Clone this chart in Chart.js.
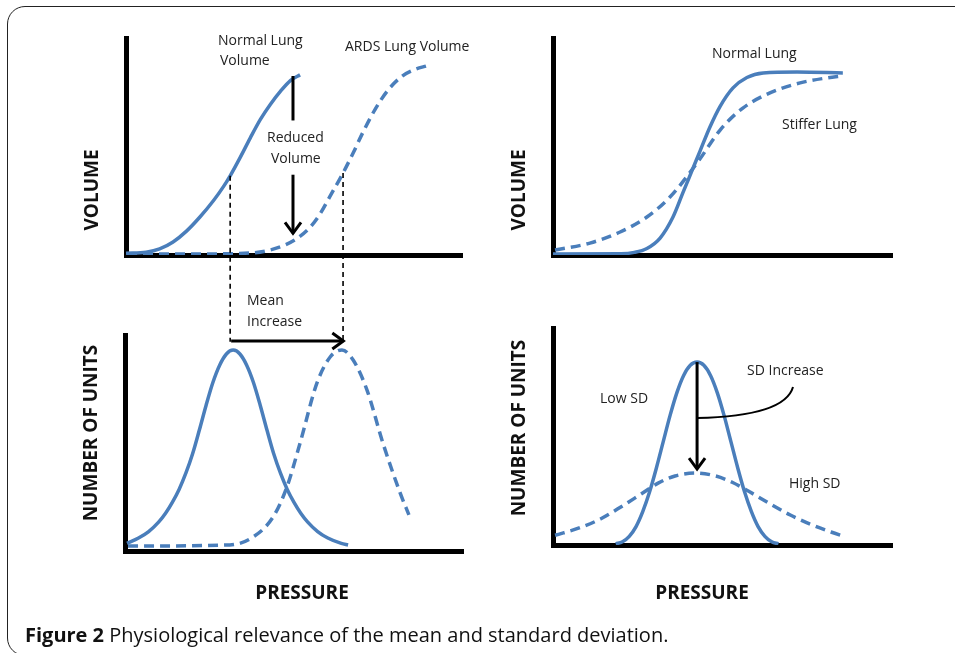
<!DOCTYPE html>
<html>
<head>
<meta charset="utf-8">
<script src="https://cdn.jsdelivr.net/npm/chart.js@4.4.1/dist/chart.umd.min.js"></script>
<style>
  body { margin: 0; background: #fff; width: 955px; height: 653px; overflow: hidden; position: relative; font-family: "Open Sans", sans-serif; }
  canvas { position: absolute; left: 0; top: 0; }
  .frame { position: absolute; left: 7px; top: 6px; width: 1000px; height: 648px; border: 1px solid #222; border-radius: 18px 0 0 18px; }
  .t { position: absolute; font-size: 14px; color: #222; white-space: nowrap; line-height: 1; transform: translateY(-50%); }
  .ax { position: absolute; font-weight: bold; font-size: 19px; color: #111; white-space: nowrap; line-height: 1; transform: translate(-50%, -50%) rotate(-90deg); }
  .px { position: absolute; font-weight: bold; font-size: 19px; color: #111; white-space: nowrap; line-height: 1; transform: translate(-50%, -50%); }
  .cap { position: absolute; left: 25px; top: 635px; transform: translateY(-50%); font-size: 20px; color: #111; white-space: nowrap; line-height: 1; }
</style>
</head>
<body>
<div class="frame"></div>
<canvas id="c1" width="955" height="653"></canvas>
<canvas id="c2" width="955" height="653"></canvas>
<canvas id="c3" width="955" height="653"></canvas>
<canvas id="c4" width="955" height="653"></canvas>

<div class="t" style="left:218px;top:40px">Normal Lung</div>
<div class="t" style="left:220px;top:60px">Volume</div>
<div class="t" style="left:345px;top:46px">ARDS Lung Volume</div>
<div class="t" style="left:267px;top:137px">Reduced</div>
<div class="t" style="left:271px;top:158px">Volume</div>
<div class="ax" style="left:91px;top:190px">VOLUME</div>

<div class="t" style="left:712px;top:53px">Normal Lung</div>
<div class="t" style="left:782px;top:124px">Stiffer Lung</div>
<div class="ax" style="left:518px;top:190px">VOLUME</div>

<div class="t" style="left:247px;top:300px">Mean</div>
<div class="t" style="left:247px;top:321px">Increase</div>
<div class="ax" style="left:90px;top:433px">NUMBER OF UNITS</div>
<div class="px" style="left:302px;top:592px">PRESSURE</div>

<div class="t" style="left:747px;top:370px">SD Increase</div>
<div class="t" style="left:600px;top:398px">Low SD</div>
<div class="t" style="left:789px;top:483px">High SD</div>
<div class="ax" style="left:518px;top:428px">NUMBER OF UNITS</div>
<div class="px" style="left:702px;top:592px">PRESSURE</div>

<div class="cap"><b>Figure 2</b> Physiological relevance of the mean and standard deviation.</div>

<script>
// panel 1: volume vs pressure, normal vs ARDS
const volNormalX = [0, 6, 10, 14, 18, 22, 26, 29, 31, 34, 37, 40, 43, 46, 49, 51.8];
const volNormalY = [0.8, 1.3, 2.8, 6, 11, 17.5, 25, 31.5, 36.5, 45, 54, 62.5, 69.5, 75.5, 80.5, 83];
const volArdsX = [0.3, 22, 36.9, 42.9, 47.3, 50.9, 54.8, 57.7, 60.7, 64.6, 67.6, 70.5, 74.1, 78, 82.1, 86, 89.6];
const volArdsY = [0.5, 0.5, 0.9, 2.3, 4.6, 7.6, 12.8, 18.8, 27, 37.8, 47, 56.5, 67, 76, 82.3, 85.5, 87.2];

// panel 2: normal vs stiffer lung
const stiffNormalX = [0, 20, 24, 27.7, 31.6, 35.4, 38.3, 41.3, 43.4, 46.3, 49.3, 53.1, 57.2, 62, 72, 85.5];
const stiffNormalY = [0.5, 0.6, 1.2, 3, 7.8, 17.5, 28.6, 40, 48, 59, 68.5, 77, 81.8, 83.9, 84.3, 83.9];
const stifferX = [0.6, 10.9, 19.8, 27.7, 34.5, 42.5, 49.3, 56, 64, 72.9, 80.8, 85.5];
const stifferY = [2.3, 5.5, 10.6, 17.5, 26.7, 42.4, 57.6, 67.7, 74.7, 79.3, 81.6, 82.5];

// panel 3: distributions, mean shift
const meanLowX = [0.6, 4, 7, 10, 12, 14, 16, 18, 20, 22, 24, 26, 28, 30, 32, 34, 36, 38, 40, 42, 44, 46, 48, 50, 52, 54, 57, 60, 64, 66];
const meanLowY = [3.5, 6, 9, 13.5, 17.5, 22.5, 28.5, 36, 45, 56, 67.5, 78, 86, 91.2, 93, 91.2, 86, 78, 67.5, 56, 45, 36, 28.5, 22.5, 17.5, 13.5, 9, 6, 3.5, 2.8];
const meanHighX = [0.9, 31, 37.9, 43.8, 47.9, 51.8, 56.8, 60.7, 64.2, 67.5, 71.6, 76.3, 81.4, 84];
const meanHighY = [2.3, 2.8, 6.5, 15.7, 29.6, 50, 77.8, 89.8, 93.1, 88.4, 74.5, 50, 26.9, 16.7];

// panel 4: distributions, SD increase
const sdLowX = [18.5, 20.5, 22.5, 24.5, 26.5, 28.5, 30.5, 32.5, 34.5, 36.5, 38.5, 40.5, 42.5, 44.5, 46.5, 48.5, 50.5, 52.5, 54.5, 56.5, 58.5, 60.5, 62.5, 64.5, 66.5];
const sdLowY = [0.5, 1.5, 4, 8.5, 15.5, 24.5, 35.5, 47.5, 59.5, 70, 78, 82.8, 84.3, 82.8, 78, 70, 59.5, 47.5, 35.5, 24.5, 15.5, 8.5, 4, 1.5, 0.5];
const sdHighX = [0.6, 8, 14, 20, 26, 31, 36, 42, 48, 53, 58, 64, 70, 76, 82, 86.1];
const sdHighY = [4.5, 8, 12, 17.5, 23.5, 28.5, 31.8, 33.2, 31.8, 28.8, 24.5, 19, 13.8, 9.5, 6, 3.8];

const BLUE = '#4a7ebb';

function pts(xs, ys) { return xs.map((x, i) => ({ x: x, y: ys[i] })); }

function curve(xs, ys, dashed) {
  return {
    data: pts(xs, ys),
    borderColor: BLUE,
    borderWidth: 3.5,
    borderDash: dashed ? [10, 6] : [],
    pointRadius: 0,
    cubicInterpolationMode: 'monotone',
    fill: false
  };
}

function axis() {
  return {
    type: 'linear', min: 0, max: 100,
    ticks: { display: false },
    grid: { display: false, drawTicks: false },
    border: { display: true, color: '#000', width: 5 }
  };
}

function line(ctx, x1, y1, x2, y2) {
  ctx.beginPath(); ctx.moveTo(x1, y1); ctx.lineTo(x2, y2); ctx.stroke();
}

function head(ctx, x, y, dir) {
  ctx.beginPath();
  if (dir === 'down') { ctx.moveTo(x - 8, y - 11); ctx.lineTo(x, y); ctx.lineTo(x + 8, y - 11); }
  else { ctx.moveTo(x - 11, y - 8); ctx.lineTo(x, y); ctx.lineTo(x - 11, y + 8); }
  ctx.stroke();
}

function makeChart(id, area, datasets, extra) {
  new Chart(document.getElementById(id), {
    type: 'line',
    data: { datasets: datasets },
    options: {
      responsive: false,
      animation: false,
      devicePixelRatio: 1,
      layout: { padding: { left: area[0], top: area[1], right: 955 - area[2], bottom: 653 - area[3] } },
      scales: { x: axis(), y: axis() },
      plugins: { legend: { display: false }, tooltip: { enabled: false } }
    },
    plugins: [{
      id: 'marks',
      afterDatasetsDraw(chart) {
        const ctx = chart.ctx;
        const X = v => chart.scales.x.getPixelForValue(v);
        const Y = v => chart.scales.y.getPixelForValue(v);
        ctx.save();
        ctx.strokeStyle = '#000';
        extra(ctx, X, Y);
        ctx.restore();
      }
    }]
  });
}

makeChart('c1', [126, 38, 462, 255],
  [curve(volNormalX, volNormalY, false), curve(volArdsX, volArdsY, true)],
  (ctx, X, Y) => {
    // guide lines at the middle of each curve, down to the distribution panel
    ctx.lineWidth = 1.6;
    ctx.setLineDash([5, 4]);
    line(ctx, X(31), Y(36.5), X(31), Y(-40));
    line(ctx, X(64.6), Y(37.8), X(64.6), Y(-40));
    ctx.setLineDash([]);
    ctx.lineWidth = 3;
    line(ctx, X(49.7), Y(82.5), X(49.7), Y(62));
    line(ctx, X(49.7), Y(37), X(49.7), Y(10));
    head(ctx, X(49.7), Y(10), 'down');
  });

makeChart('c2', [553, 38, 892, 255],
  [curve(stiffNormalX, stiffNormalY, false), curve(stifferX, stifferY, true)],
  () => {});

makeChart('c3', [125, 335, 463, 551],
  [curve(meanLowX, meanLowY, false), curve(meanHighX, meanHighY, true)],
  (ctx, X, Y) => {
    ctx.lineWidth = 3;
    line(ctx, X(31.4), Y(97.2), X(64.6), Y(97.2));
    head(ctx, X(64.6), Y(97.2), 'right');
  });

makeChart('c4', [553, 328, 892, 545],
  [curve(sdLowX, sdLowY, false), curve(sdHighX, sdHighY, true)],
  (ctx, X, Y) => {
    ctx.lineWidth = 3;
    line(ctx, X(42.5), Y(84.3), X(42.5), Y(35));
    head(ctx, X(42.5), Y(35), 'down');
    ctx.lineWidth = 2;
    ctx.beginPath();
    ctx.moveTo(X(42.5), Y(58.5));
    ctx.quadraticCurveTo(X(68.4), Y(59.4), X(70.8), Y(72.8));
    ctx.stroke();
  });
</script>
</body>
</html>
